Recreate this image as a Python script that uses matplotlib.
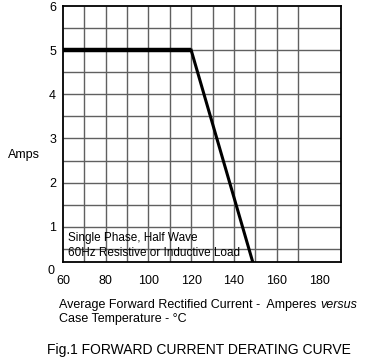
import matplotlib.pyplot as plt
import matplotlib.transforms as mtransforms

plt.rcParams['font.family'] = ['Liberation Sans', 'DejaVu Sans']

# derating curve (case temp C, amps)
temp = [60, 120, 150]
amps = [5, 5, 0]

x_ticks = [60, 80, 100, 120, 140, 160, 180]
y_ticks = [1, 2, 3, 4, 5, 6]
grid_x = [70, 80, 90, 100, 110, 120, 130, 140, 150, 160, 170]
grid_y = [0.5, 1, 1.5, 2, 2.5, 3, 3.5, 4, 4.5, 5, 5.5]

fig = plt.figure(figsize=(3.86, 3.58), dpi=100)
ax = fig.add_axes([0.163, 0.268, 0.72, 0.715])

ax.vlines(grid_x, 0, 6, colors='#606060', linewidth=1.0, zorder=1)
ax.hlines(grid_y, 60, 190, colors='#606060', linewidth=1.0, zorder=1)

# flat part is drawn heavier than the slope in the original
ax.plot(temp[:2], amps[:2], color='black', linewidth=3.2, solid_capstyle='butt', zorder=3)
ax.plot(temp[1:], amps[1:], color='black', linewidth=2.2, zorder=3)

ax.set_xlim(60, 190)
ax.set_ylim(0.2, 6)
ax.set_xticks(x_ticks)
ax.set_yticks(y_ticks)
ax.tick_params(length=0, labelsize=9)
ax.tick_params(axis='x', pad=9)
ax.tick_params(axis='y', pad=5)
for s in ax.spines.values():
    s.set_linewidth(1.3)

# "0" sits below the frame in the original
trans = mtransforms.blended_transform_factory(ax.transAxes, ax.transData)
ax.text(-0.03, 0, '0', transform=trans, ha='right', va='center', fontsize=9)

ax.text(-0.14, 0.42, 'Amps', transform=ax.transAxes, ha='center', va='center', fontsize=9)

ax.text(0.02, 0.094, 'Single Phase, Half Wave', transform=ax.transAxes, fontsize=8.5, va='center')
ax.text(0.02, 0.035, '60Hz Resistive or Inductive Load', transform=ax.transAxes, fontsize=8.5, va='center')

t1 = fig.text(0.153, 0.148, 'Average Forward Rectified Current -  Amperes ', fontsize=9, va='center')
fig.text(0.153, 0.108, 'Case Temperature - \u00b0C', fontsize=9, va='center')
fig.canvas.draw()
bb = t1.get_window_extent().transformed(fig.transFigure.inverted())
fig.text(bb.x1, 0.148, 'versus', fontsize=9, va='center', style='italic')

fig.text(0.515, 0.022, 'Fig.1 FORWARD CURRENT DERATING CURVE', fontsize=10, ha='center', va='center')

fig.savefig('out.png', dpi=100)
